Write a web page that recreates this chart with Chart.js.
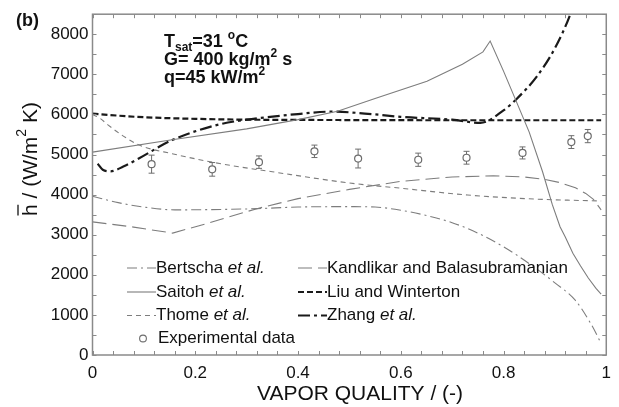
<!DOCTYPE html>
<html>
<head>
<meta charset="utf-8">
<script src="https://cdn.jsdelivr.net/npm/chart.js@4.4.0/dist/chart.umd.min.js"></script>
<style>
	html, body { margin: 0; padding: 0; background: #fff; }
	#wrap { width: 619px; height: 407px; }
</style>
</head>
<body>
<div id="wrap"><canvas id="chart" width="619" height="407"></canvas></div>
<script>
// values (x = vapor quality, y = h in W/m2 K)
const bertschaX = [0, 0.05, 0.1, 0.16, 0.25, 0.32, 0.4, 0.5, 0.55, 0.6, 0.65, 0.7, 0.75, 0.8, 0.85, 0.9, 0.94, 0.97, 0.99];
const bertschaY = [3960, 3800, 3690, 3620, 3630, 3650, 3690, 3700, 3690, 3610, 3480, 3300, 3040, 2700, 2280, 1800, 1360, 780, 290];

const kandlikarX = [0, 0.08, 0.156, 0.22, 0.32, 0.4, 0.5, 0.6, 0.7, 0.78, 0.84, 0.88, 0.91, 0.94, 0.96, 0.975, 0.99];
const kandlikarY = [3320, 3190, 3040, 3270, 3650, 3900, 4130, 4330, 4440, 4470, 4440, 4380, 4300, 4170, 4030, 3880, 3620];

const saitohX = [0, 0.155, 0.3, 0.4, 0.477, 0.55, 0.651, 0.72, 0.76, 0.774, 0.8, 0.824, 0.85, 0.876, 0.895, 0.91, 0.92, 0.935, 0.95, 0.965, 0.98, 0.99];
const saitohY = [5060, 5370, 5640, 5870, 6080, 6400, 6830, 7250, 7560, 7830, 7080, 6350, 5560, 4570, 3750, 3200, 2950, 2540, 2220, 1920, 1660, 1520];

const liuX = [0, 0.05, 0.1, 0.2, 0.3, 0.5, 0.7, 0.9, 0.99];
const liuY = [6020, 5970, 5930, 5890, 5870, 5860, 5855, 5855, 5855];

const thomeX = [0, 0.015, 0.03, 0.06, 0.092, 0.155, 0.25, 0.35, 0.5, 0.6, 0.73, 0.86, 0.99];
const thomeY = [6000, 5900, 5740, 5460, 5230, 5020, 4770, 4570, 4290, 4160, 3990, 3890, 3840];

const zhangX = [0.01, 0.02, 0.035, 0.06, 0.09, 0.155, 0.25, 0.32, 0.4, 0.465, 0.55, 0.6, 0.7, 0.755, 0.8, 0.825, 0.865, 0.9, 0.93, 0.94];
const zhangY = [4770, 4620, 4580, 4700, 4900, 5360, 5760, 5900, 6010, 6070, 6000, 5940, 5870, 5790, 6100, 6380, 6950, 7650, 8500, 8900];

const expX = [0.115, 0.233, 0.324, 0.432, 0.517, 0.634, 0.728, 0.837, 0.932, 0.964];
const expY = [4760, 4630, 4810, 5080, 4900, 4870, 4920, 5040, 5310, 5460];
const expErr = [225, 170, 155, 155, 235, 165, 160, 150, 160, 165];

const xTicks = [0, 0.2, 0.4, 0.6, 0.8, 1];
const yTicks = [0, 1000, 2000, 3000, 4000, 5000, 6000, 7000, 8000];

const FONT = '"Liberation Sans", Arial, sans-serif';
const GRAY = "#7d7d7d";

const pts = (xs, ys) => xs.map((x, i) => ({ x, y: ys[i] }));

const lineSet = (label, xs, ys, color, width, dash, smooth) => ({
	label,
	data: pts(xs, ys),
	showLine: true,
	borderColor: color,
	backgroundColor: color,
	borderWidth: width,
	borderDash: dash,
	pointRadius: 0,
	cubicInterpolationMode: smooth ? "monotone" : "default",
	tension: 0,
});

const datasets = [
	lineSet("Bertscha", bertschaX, bertschaY, GRAY, 1.1, [10, 4, 2, 4], true),
	lineSet("Kandlikar", kandlikarX, kandlikarY, GRAY, 1.1, [14, 6], false),
	lineSet("Saitoh", saitohX, saitohY, GRAY, 1.1, [], false),
	lineSet("Liu", liuX, liuY, "#1a1a1a", 2.2, [6, 3], true),
	lineSet("Thome", thomeX, thomeY, GRAY, 1.1, [5, 4], true),
	lineSet("Zhang", zhangX, zhangY, "#1a1a1a", 2.2, [12, 4, 3, 4], true),
	{
		label: "Experimental data",
		data: pts(expX, expY),
		showLine: false,
		pointRadius: 3.5,
		pointStyle: "circle",
		borderColor: "#6d6d6d",
		backgroundColor: "rgba(255,255,255,0)",
		pointBorderWidth: 1.2,
	},
];

const legendRows = [
	{ ds: 0, col: 0, row: 0, parts: [["Bertscha ", ""], ["et al.", "italic "]] },
	{ ds: 2, col: 0, row: 1, parts: [["Saitoh ", ""], ["et al.", "italic "]] },
	{ ds: 4, col: 0, row: 2, parts: [["Thome ", ""], ["et al.", "italic "]] },
	{ ds: 6, col: 0, row: 3, parts: [["Experimental data", ""]] },
	{ ds: 1, col: 1, row: 0, parts: [["Kandlikar and Balasubramanian", ""]] },
	{ ds: 3, col: 1, row: 1, parts: [["Liu and Winterton", ""]] },
	{ ds: 5, col: 1, row: 2, parts: [["Zhang ", ""], ["et al.", "italic "]] },
];

// draws a run of text pieces: [text, fontString, dy]
function drawRich(ctx, x, y, segs) {
	for (const [t, f, dy] of segs) {
		ctx.font = f;
		ctx.fillText(t, x, y + (dy || 0));
		x += ctx.measureText(t).width;
	}
	return x;
}

function richWidth(ctx, segs) {
	let w = 0;
	for (const [t, f] of segs) {
		ctx.font = f;
		w += ctx.measureText(t).width;
	}
	return w;
}

const decor = {
	id: "decor",
	afterDatasetsDraw(chart) {
		const { ctx, scales } = chart;
		const xs = scales.x, ys = scales.y;
		ctx.save();
		ctx.strokeStyle = "#6d6d6d";
		ctx.lineWidth = 1;
		expX.forEach((xv, i) => {
			const px = xs.getPixelForValue(xv);
			const py = ys.getPixelForValue(expY[i]);
			const top = ys.getPixelForValue(expY[i] + expErr[i]);
			const bot = ys.getPixelForValue(expY[i] - expErr[i]);
			ctx.beginPath();
			ctx.moveTo(px, top); ctx.lineTo(px, py - 3.5);
			ctx.moveTo(px, py + 3.5); ctx.lineTo(px, bot);
			ctx.moveTo(px - 3, top); ctx.lineTo(px + 3, top);
			ctx.moveTo(px - 3, bot); ctx.lineTo(px + 3, bot);
			ctx.stroke();
		});
		ctx.restore();
	},
	afterDraw(chart) {
		const { ctx, chartArea: a, scales } = chart;
		const xs = scales.x, ys = scales.y;
		ctx.save();

		// frame and inward ticks
		ctx.strokeStyle = "#8a8a8a";
		ctx.lineWidth = 1.5;
		ctx.strokeRect(a.left, a.top, a.right - a.left, a.bottom - a.top);
		ctx.lineWidth = 1;
		ctx.beginPath();
		for (let k = 0; k <= 25; k++) {
			const px = Math.round(xs.getPixelForValue(k * 0.04)) + 0.5;
			ctx.moveTo(px, a.bottom); ctx.lineTo(px, a.bottom - 4);
			ctx.moveTo(px, a.top); ctx.lineTo(px, a.top + 4);
		}
		for (let v = 0; v <= 8500; v += 500) {
			const py = Math.round(ys.getPixelForValue(v)) + 0.5;
			ctx.moveTo(a.left, py); ctx.lineTo(a.left + 4, py);
			ctx.moveTo(a.right, py); ctx.lineTo(a.right - 4, py);
		}
		ctx.stroke();

		ctx.fillStyle = "#111";
		ctx.textBaseline = "alphabetic";
		ctx.textAlign = "left";

		// panel label
		ctx.font = `bold 18px ${FONT}`;
		ctx.fillText("(b)", 16, 26);

		// conditions
		const B = `bold 18px ${FONT}`;
		const Bs = `bold 12px ${FONT}`;
		drawRich(ctx, 164, 46.5, [["T", B], ["sat", Bs, 4], ["=31 ", B], ["o", Bs, -8], ["C", B]]);
		drawRich(ctx, 164, 65, [["G= 400 kg/m", B], ["2", Bs, -8], [" s", B]]);
		drawRich(ctx, 164, 83, [["q=45 kW/m", B], ["2", Bs, -8]]);

		// x axis title
		ctx.font = `21px ${FONT}`;
		ctx.textAlign = "center";
		ctx.fillText("VAPOR QUALITY / (-)", 360, 400);
		ctx.textAlign = "left";

		// y axis title, rotated
		const N = `21px ${FONT}`;
		const Ns = `14px ${FONT}`;
		const ysegs = [["h", N], [" / (W/m", N], ["2", Ns, -11], [" K)", N]];
		ctx.translate(37, 159);
		ctx.rotate(-Math.PI / 2);
		const w = richWidth(ctx, ysegs);
		const x0 = -w / 2;
		ctx.font = N;
		const hw = ctx.measureText("h").width;
		drawRich(ctx, x0, 0, ysegs);
		ctx.strokeStyle = "#111";
		ctx.lineWidth = 1.3;
		ctx.beginPath();
		ctx.moveTo(x0 + 0.5, -19); ctx.lineTo(x0 + hw - 0.5, -19);
		ctx.stroke();
		ctx.setTransform(1, 0, 0, 1, 0, 0);

		// legend
		const colSample = [127, 298];
		const rowY = [268, 292, 315.5, 338.5];
		legendRows.forEach(({ ds, col, row, parts }) => {
			const d = chart.data.datasets[ds];
			const y = rowY[row];
			const sx = colSample[col];
			if (d.showLine) {
				ctx.strokeStyle = d.borderColor;
				ctx.lineWidth = d.borderWidth;
				ctx.setLineDash(d.borderDash);
				ctx.beginPath();
				ctx.moveTo(sx, y); ctx.lineTo(sx + 29, y);
				ctx.stroke();
				ctx.setLineDash([]);
			} else {
				ctx.strokeStyle = d.borderColor;
				ctx.lineWidth = 1.1;
				ctx.beginPath();
				ctx.arc(sx + 16, y, 3.4, 0, Math.PI * 2);
				ctx.stroke();
			}
			ctx.fillStyle = "#111";
			ctx.textBaseline = "middle";
			const tx = d.showLine ? sx + 29 : sx + 31;
			drawRich(ctx, tx, y, parts.map(([t, s]) => [t, `${s}17px ${FONT}`]));
		});
		ctx.restore();
	},
};

new Chart(document.getElementById("chart").getContext("2d"), {
	type: "scatter",
	data: { datasets },
	options: {
		responsive: false,
		animation: false,
		devicePixelRatio: 1,
		layout: { padding: { top: 10, right: 8, left: 0, bottom: 0 } },
		plugins: { legend: { display: false }, tooltip: { enabled: false } },
		scales: {
			x: {
				type: "linear",
				min: 0,
				max: 1,
				afterFit: (s) => { s.height = 52; },
				afterBuildTicks: (s) => { s.ticks = xTicks.map((value) => ({ value })); },
				grid: { display: false, drawTicks: false },
				border: { display: false },
				ticks: {
					autoSkip: false,
					maxRotation: 0,
					padding: 8,
					color: "#111",
					font: { family: FONT, size: 17 },
					callback: (v) => String(+v.toFixed(1)),
				},
			},
			y: {
				type: "linear",
				min: 0,
				max: 8500,
				afterFit: (s) => { s.width = 92.5; },
				afterBuildTicks: (s) => { s.ticks = yTicks.map((value) => ({ value })); },
				grid: { display: false, drawTicks: false },
				border: { display: false },
				ticks: {
					padding: 4,
					color: "#111",
					font: { family: FONT, size: 17 },
					callback: (v) => String(v),
				},
			},
		},
	},
	plugins: [decor],
});
</script>
</body>
</html>
